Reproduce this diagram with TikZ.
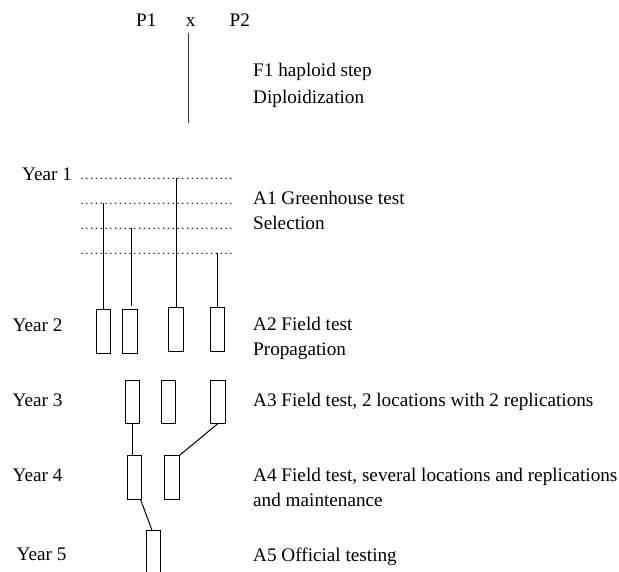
\documentclass[tikz,border=0pt]{standalone}
\usepackage{fontspec}
\setmainfont{Liberation Serif}
\usepackage{tikz}

\tikzset{
  txt/.style={anchor=base west, inner sep=0pt, font=\fontsize{19.2}{23}\selectfont},
  plotbox/.style={draw, line width=1pt, minimum width=14.3pt, minimum height=44pt, inner sep=0pt},
  dotrow/.style={line width=1.5pt, line cap=round, dash pattern=on 0pt off 4.8pt}
}

\begin{document}
\begin{tikzpicture}[x=1pt, y=-1pt]

\useasboundingbox (0,0) rectangle (619,571);
\clip (0,0) rectangle (619,571);

% Crossing and haploid step
\node[txt] (p1) at (136,26.7) {P1};
\node[txt, anchor=base] (cross) at (190.7,26.7) {x};
\node[txt] (p2) at (229.5,26.7) {P2};
\coordinate (stemtop) at (188,33);
\coordinate (stembot) at (188,123);
\draw[line width=1pt, black!80] (stemtop) -- (stembot);
\node[txt] (f1) at (253,76.7) {F1 haploid step};
\node[txt] (dip) at (253,103) {Diploidization};

% Year 1
\node[txt] (y1) at (22,180) {Year 1};
\foreach \y [count=\i] in {178.3,203.3,228.3,253.3}
  \coordinate (row\i) at (82,\y);
\foreach \i in {1,...,4}
  \draw[dotrow] (row\i) -- ++(150,0);
\node[txt] (a1) at (253,204) {A1 Greenhouse test};
\node[txt] (sel) at (253,229) {Selection};

% Year 2
\node[txt] (y2) at (12.5,331) {Year 2};
\node[plotbox, minimum height=44.7pt] (b21) at (103.8,331.6) {};
\node[plotbox, minimum height=44.7pt] (b22) at (130,331.6) {};
\node[plotbox] (b23) at (176,329.5) {};
\node[plotbox] (b24) at (217.5,329.5) {};
\draw[line width=1pt] (b23.north |- row1) -- (b23.north);
\draw[line width=1pt] (b21.north |- row2) -- (b21.north);
\draw[line width=1pt] ([xshift=1.7pt]b22.north |- row3) -- ([xshift=1.7pt,yshift=2.5pt]b22.north);
\draw[line width=1pt] (b24.north |- row4) -- (b24.north);
\node[txt] (a2) at (253,330.7) {A2 Field test};
\node[txt] (prop) at (253,355) {Propagation};

% Year 3
\node[txt] (y3) at (12.5,406) {Year 3};
\node[plotbox, minimum height=43pt] (b31) at (132.8,401.5) {};
\node[plotbox, minimum height=43pt] (b32) at (168.8,401.5) {};
\node[plotbox, minimum height=43pt] (b33) at (218,401.5) {};
\node[txt] (a3) at (253,406) {A3 Field test, 2 locations with 2 replications};

% Year 4
\node[txt] (y4) at (12.5,481.7) {Year 4};
\node[plotbox, minimum height=43.6pt] (b41) at (134.7,477.5) {};
\node[plotbox, minimum height=43.6pt] (b42) at (172,477.5) {};
\draw[line width=1pt] (b31.south) -- (b31.south |- b41.north);
\draw[line width=1pt] (b33.south) -- (b42.north east);
\node[txt] (a4) at (253,481.7) {A4 Field test, several locations and replications};
\node[txt] (maint) at (253,506.7) {and maintenance};

% Year 5
\node[txt] (y5) at (16.5,560.7) {Year 5};
\node[plotbox, minimum height=60pt, anchor=north] (b5) at (153.5,530) {};
\draw[line width=1pt] (b41.-75) -- (b5.93);
\node[txt] (a5) at (253,561) {A5 Official testing};

\end{tikzpicture}
\end{document}
